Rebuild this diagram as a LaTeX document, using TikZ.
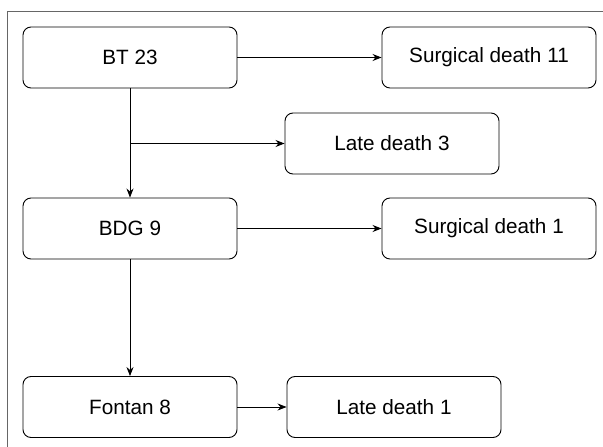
\documentclass[tikz,border=0pt]{standalone}
\usepackage{fontspec}
\setmainfont{Liberation Sans}
\usetikzlibrary{arrows.meta}
\begin{document}
\begin{tikzpicture}[x=1pt,y=-1pt,
  box/.style={draw=black,line width=0.9pt,rounded corners=8pt,minimum width=214pt,minimum height=61pt,inner sep=0pt,font=\fontsize{20.7}{24}\selectfont,anchor=center},
  conn/.style={draw=black,line width=0.9pt,-{Stealth[length=9pt,width=7pt]}}]
\useasboundingbox (0,0) rectangle (603,447);
\fill[white] (0,0) rectangle (603,447);
\draw[draw=black!60,line width=1pt] (7,447) -- (7,11) -- (603,11);
\node[box] (bt) at (130,57.5) {BT 23};
\node[box] (sd11) at (489,57.5) {Surgical death 11};
\node[box] (ld3) at (392,143.5) {Late death 3};
\node[box] (bdg) at (130,228.5) {BDG 9};
\node[box] (sd1) at (489,228.5) {Surgical death 1};
\node[box] (fon) at (130,407) {Fontan 8};
\node[box] (ld1) at (394,407) {Late death 1};
\coordinate (br) at (bt.south |- ld3.west);
\draw[conn] (bt) -- (sd11);
\draw[conn] (br) -- (ld3);
\draw[conn] (bt) -- (bdg);
\draw[conn] (bdg) -- (sd1);
\draw[conn] (bdg) -- (fon);
\draw[conn] (fon) -- (ld1);
\end{tikzpicture}
\end{document}
